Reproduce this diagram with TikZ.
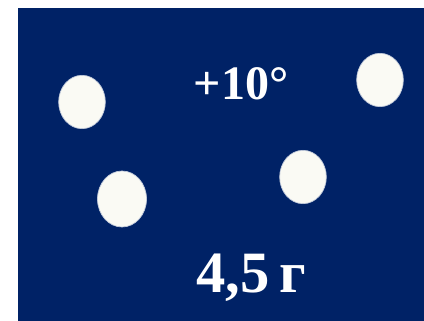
\documentclass[tikz,border=0pt]{standalone}
\usepackage{fontspec}
\setmainfont{Liberation Serif}
\usepackage{xcolor}
\usetikzlibrary{shapes.geometric, positioning}

\definecolor{navy}{RGB}{0,34,102}
\definecolor{dotwhite}{RGB}{250,250,244}

\begin{document}
\begin{tikzpicture}[x=0.03cm, y=-0.03cm,
    board/.style={rectangle, fill=navy, draw=none},
    dot/.style={ellipse, fill=dotwhite, draw=white!75!navy, line width=0.6pt, minimum width=1.4cm, minimum height=1.6cm, inner sep=0pt},
    label/.style={text=white, font=\bfseries, anchor=base, inner sep=0pt}
]
\useasboundingbox (0,0) rectangle (424,321);

% Background panel
\fill[white] (0,0) rectangle (424,321);
\node[board, minimum width=12.6cm, minimum height=9.8cm, anchor=north west, inner sep=0pt] (panel) at (18,8) {};

% Spots
\node[dot] (spotA) at (82,102) {};
\node[dot] (spotB) at (380,80) {};
\node[dot, minimum width=1.47cm, minimum height=1.68cm] (spotC) at (122,199) {};
\node[dot] (spotD) at (303,177) {};

% Texts
\node[label, font=\bfseries\fontsize{41}{41}\selectfont] (temp) at (241,100) {+10°};
\node[label, font=\bfseries\fontsize{50}{50}\selectfont] (mass) at (251,293) {4,5\,г};

\end{tikzpicture}
\end{document}
